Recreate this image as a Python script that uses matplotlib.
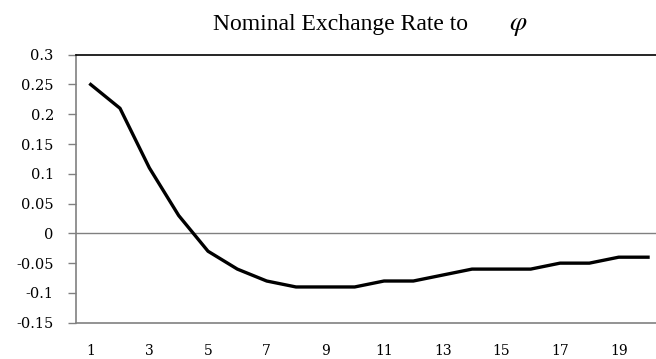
import matplotlib
matplotlib.use("Agg")
import matplotlib.pyplot as plt

plt.rcParams["mathtext.fontset"] = "stix"

periods = list(range(1, 21))
response = [0.25, 0.21, 0.11, 0.03, -0.03, -0.06, -0.08, -0.09, -0.09, -0.09,
            -0.08, -0.08, -0.07, -0.06, -0.06, -0.06, -0.05, -0.05, -0.04, -0.04]
y_ticks = [0.3, 0.25, 0.2, 0.15, 0.1, 0.05, 0, -0.05, -0.1, -0.15]
y_labels = ["0.3", "0.25", "0.2", "0.15", "0.1", "0.05", "0", "-0.05", "-0.1", "-0.15"]
x_ticks = [1, 3, 5, 7, 9, 11, 13, 15, 17, 19]

title_text = "Nominal Exchange Rate to"
title_symbol = r"$\varphi$"

serif = ["Liberation Serif", "DejaVu Serif"]
tick_font = ["DejaVu Serif"]

fig = plt.figure(figsize=(6.56, 3.59), dpi=100)
ax = fig.add_axes([76 / 656, 1 - 322.7 / 359, 586.7 / 656, (322.7 - 54.7) / 359])

ax.plot(periods, response, color="black", lw=2.4, solid_joinstyle="round", zorder=3)
ax.axhline(0, color="#808080", lw=1.0, zorder=2)

ax.set_xlim(0.5, 20.5)
ax.set_ylim(-0.15, 0.3)
ax.set_yticks(y_ticks)
ax.set_yticklabels(y_labels, fontfamily=tick_font, fontsize=10.5)
ax.set_xticks(x_ticks)
ax.set_xticklabels([str(t) for t in x_ticks], fontfamily=tick_font, fontsize=10)

ax.tick_params(axis="y", direction="out", length=6, width=1, color="#808080", pad=10)
ax.tick_params(axis="x", length=0, pad=15)

for side in ("left", "bottom"):
    ax.spines[side].set_color("#808080")
    ax.spines[side].set_linewidth(1.2)
ax.spines["top"].set_color("black")
ax.spines["top"].set_linewidth(1.2)
ax.spines["right"].set_visible(False)

fig.text(213 / 656, 1 - 30 / 359, title_text, ha="left", va="baseline",
         fontfamily=serif, fontsize=17)
fig.text(518 / 656, 1 - 30 / 359, title_symbol, ha="center", va="baseline",
         fontsize=20)

fig.savefig("out.png", dpi=100)
